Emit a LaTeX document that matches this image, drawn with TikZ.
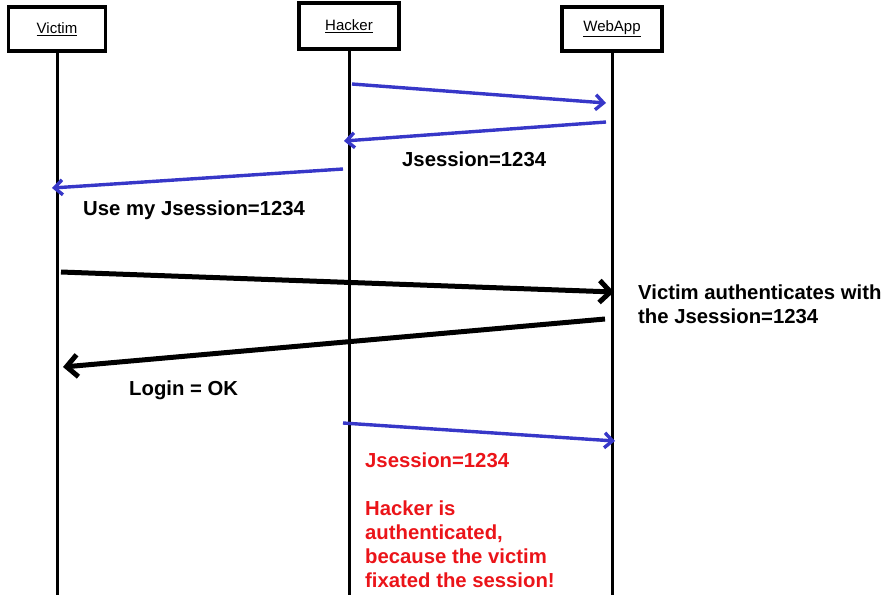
\documentclass[tikz,border=0pt]{standalone}
\usepackage{fontspec}
\setmainfont{Liberation Sans}
\usetikzlibrary{arrows.meta}
\definecolor{msgblue}{RGB}{55,55,200}
\definecolor{notered}{RGB}{235,20,25}
\begin{document}
\begin{tikzpicture}[x=1pt,y=-1pt,
    actor/.style={draw,line width=3.8pt,minimum width=97pt,minimum height=44pt,inner sep=0pt,font=\fontsize{15}{18}\selectfont},
    life/.style={line width=3pt},
    bluemsg/.style={draw=msgblue,line width=3.4pt,-{Straight Barb[length=8pt,width=15pt]}},
    blackmsg/.style={line width=5pt,-{Straight Barb[length=11pt,width=22pt]}},
    msg/.style={font=\bfseries\fontsize{20.3}{24}\selectfont,inner sep=0pt,anchor=base west,align=left}]
  \useasboundingbox (0,0) rectangle (893,595);
  \coordinate (bottom) at (0,595);
  \node[actor] (victim) at (57,29) {\underline{Victim}};
  \node[actor,minimum width=100pt,minimum height=46pt] (hacker) at (349,26) {\underline{Hacker}};
  \node[actor,minimum width=100pt] (webapp) at (612,29) {\underline{WebApp}};
  \foreach \a in {victim,hacker,webapp}
    \draw[life] (\a.south) -- (\a.south |- bottom);
  \coordinate (h1) at (352,84);  \coordinate (w1) at (606,103);
  \coordinate (w2) at (606,122); \coordinate (h2) at (344,141);
  \coordinate (h3) at (343,169); \coordinate (v3) at (52,188);
  \coordinate (v4) at (61,272);  \coordinate (w4) at (614,292);
  \coordinate (w5) at (605,319); \coordinate (v5) at (63,367);
  \coordinate (h6) at (343,423); \coordinate (w6) at (615,441);
  \draw[bluemsg] (h1) -- (w1);
  \draw[bluemsg] (w2) -- (h2);
  \draw[bluemsg] (h3) -- (v3);
  \draw[blackmsg] (v4) -- (w4);
  \draw[blackmsg] (w5) -- (v5);
  \draw[bluemsg] (h6) -- (w6);
  \node[msg] (sid) at (402,166) {Jsession=1234};
  \node[msg] (usesid) at (83,215) {Use my Jsession=1234};
  \node[msg] (auth) at (638,323) {Victim authenticates with\\the Jsession=1234};
  \node[msg] (login) at (129,395) {Login = OK};
  \node[msg,text=notered] (fixsid) at (365,467) {Jsession=1234};
  \node[msg,text=notered] (fixnote) at (365,587) {Hacker is\\authenticated,\\because the victim\\fixated the session!};
\end{tikzpicture}
\end{document}
